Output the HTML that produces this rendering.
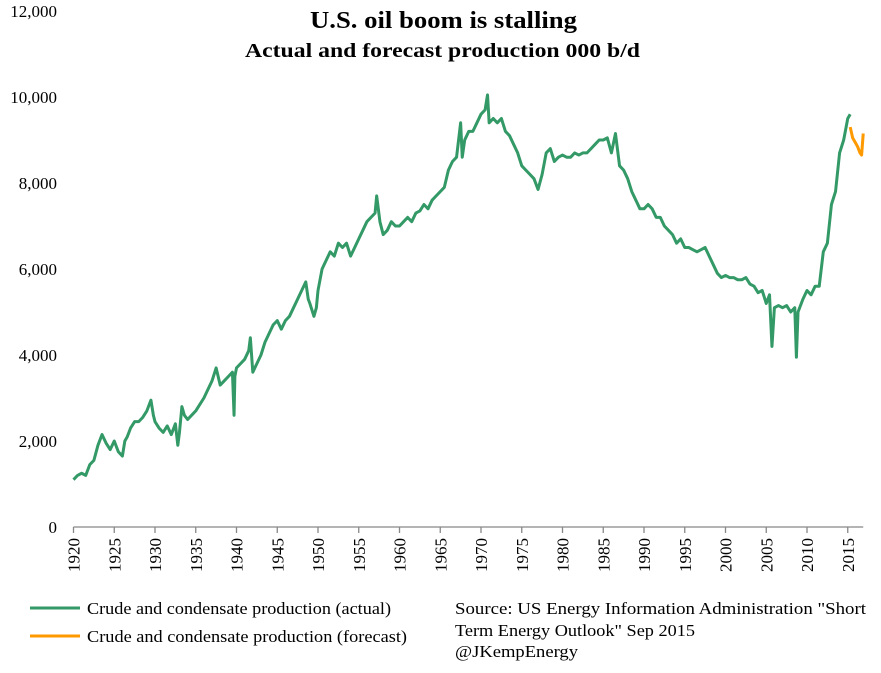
<!DOCTYPE html>
<html><head><meta charset="utf-8"><style>
body{margin:0;background:#fff;}
svg text{font-family:"Liberation Serif",serif;}
</style></head><body>
<svg id="chart" width="881" height="668" xmlns="http://www.w3.org/2000/svg">
<text x="310" y="28" font-size="24" font-weight="bold" textLength="267" lengthAdjust="spacingAndGlyphs">U.S. oil boom is stalling</text>
<text x="245" y="57" font-size="20" font-weight="bold" textLength="395" lengthAdjust="spacingAndGlyphs">Actual and forecast production 000 b/d</text>
<g id="yaxis"></g>
<g id="xaxis"></g>
<g id="series"></g>
<g>
<line x1="30" y1="608" x2="80" y2="608" stroke="#339966" stroke-width="3"/>
<text x="87" y="614" font-size="17" textLength="304" lengthAdjust="spacingAndGlyphs">Crude and condensate production (actual)</text>
<line x1="30" y1="636" x2="80" y2="636" stroke="#ff9900" stroke-width="3"/>
<text x="87" y="642" font-size="17" textLength="320" lengthAdjust="spacingAndGlyphs">Crude and condensate production (forecast)</text>
</g>
<g font-size="17">
<text x="455" y="614" textLength="411" lengthAdjust="spacingAndGlyphs">Source: US Energy Information Administration "Short</text>
<text x="455" y="636" textLength="240" lengthAdjust="spacingAndGlyphs">Term Energy Outlook" Sep 2015</text>
<text x="455" y="657" textLength="123" lengthAdjust="spacingAndGlyphs">@JKempEnergy</text>
</g>
</svg>
<script>
const yTicks=[0,2000,4000,6000,8000,10000,12000];
const yTickLabels=["0","2,000","4,000","6,000","8,000","10,000","12,000"];
const xTicks=[1920,1925,1930,1935,1940,1945,1950,1955,1960,1965,1970,1975,1980,1985,1990,1995,2000,2005,2010,2015];
const actualYears=[1920,1920.5,1921,1921.5,1922,1922.5,1923,1923.5,1924,1924.5,1925,1925.5,1926,1926.3,1926.6,1927,1927.5,1928,1928.5,1929,1929.5,1929.8,1930,1930.5,1931,1931.5,1932,1932.5,1932.8,1933,1933.3,1933.6,1934,1934.5,1935,1935.5,1936,1936.5,1937,1937.5,1938,1938.5,1939,1939.5,1939.7,1939.8,1940,1940.5,1941,1941.5,1941.7,1942,1942.5,1943,1943.5,1944,1944.5,1945,1945.5,1946,1946.5,1947,1947.5,1948,1948.5,1948.8,1949,1949.5,1949.8,1950,1950.5,1951,1951.5,1952,1952.5,1953,1953.5,1954,1954.5,1955,1955.5,1956,1956.5,1957,1957.2,1957.6,1958,1958.5,1959,1959.5,1960,1960.5,1961,1961.5,1962,1962.5,1963,1963.5,1964,1964.5,1965,1965.5,1966,1966.5,1967,1967.5,1967.7,1968,1968.5,1969,1969.5,1970,1970.5,1970.8,1971,1971.5,1972,1972.5,1973,1973.5,1974,1974.5,1975,1975.5,1976,1976.5,1977,1977.5,1978,1978.5,1979,1979.5,1980,1980.5,1981,1981.5,1982,1982.5,1983,1983.5,1984,1984.5,1985,1985.5,1986,1986.5,1987,1987.5,1988,1988.5,1989,1989.5,1990,1990.5,1991,1991.5,1992,1992.5,1993,1993.5,1994,1994.5,1995,1995.5,1996,1996.5,1997,1997.5,1998,1998.5,1999,1999.5,2000,2000.5,2001,2001.5,2002,2002.5,2003,2003.5,2004,2004.5,2005,2005.4,2005.7,2006,2006.5,2007,2007.5,2008,2008.5,2008.7,2008.9,2009.5,2010,2010.5,2011,2011.5,2012,2012.5,2013,2013.5,2014,2014.5,2015,2015.3];
const actualValues=[1100,1200,1250,1200,1450,1550,1900,2150,1950,1800,2000,1750,1650,2000,2100,2300,2450,2450,2550,2700,2950,2600,2450,2300,2200,2350,2150,2400,1900,2200,2800,2600,2500,2600,2700,2850,3000,3200,3400,3700,3300,3400,3500,3600,2600,3500,3700,3800,3900,4100,4400,3600,3800,4000,4300,4500,4700,4800,4600,4800,4900,5100,5300,5500,5700,5300,5200,4900,5100,5500,6000,6200,6400,6300,6600,6500,6600,6300,6500,6700,6900,7100,7200,7300,7700,7100,6800,6900,7100,7000,7000,7100,7200,7100,7300,7350,7500,7400,7600,7700,7800,7900,8300,8500,8600,9400,8600,9000,9200,9200,9400,9600,9700,10050,9400,9500,9400,9500,9200,9100,8900,8700,8400,8300,8200,8100,7850,8200,8700,8800,8500,8600,8650,8600,8600,8700,8650,8700,8700,8800,8900,9000,9000,9050,8700,9150,8400,8300,8100,7800,7600,7400,7400,7500,7400,7200,7200,7000,6900,6800,6600,6700,6500,6500,6450,6400,6450,6500,6300,6100,5900,5800,5850,5800,5800,5750,5750,5800,5650,5600,5450,5500,5200,5400,4200,5100,5150,5100,5150,5000,5100,3950,5000,5300,5500,5400,5600,5600,6400,6600,7500,7800,8700,9000,9500,9600];
const forecastYears=[2015.3,2015.6,2015.9,2016.2,2016.5,2016.7,2016.9];
const forecastValues=[9300,9050,8950,8850,8700,8650,9150];

const svg=document.getElementById('chart');
const NS='http://www.w3.org/2000/svg';
const x=v=>73.5+(v-1920)*(40.75/5);
const y=v=>527-v*(516/12000);
function mk(tag,attrs,parent){const e=document.createElementNS(NS,tag);for(const k in attrs)e.setAttribute(k,attrs[k]);parent.appendChild(e);return e;}
const ya=document.getElementById('yaxis');
yTicks.forEach((t,i)=>{
  const tx=mk('text',{x:57,y:y(t)+6,'text-anchor':'end','font-size':17},ya);
  
  
  tx.textContent=yTickLabels[i];
});
const xa=document.getElementById('xaxis');
const axl=mk('line',{x1:x(1920),y1:527,x2:x(2016.9),y2:527,stroke:'#888','stroke-width':1.3},xa);


xTicks.forEach(t=>{
  const tk=mk('line',{x1:x(t),y1:527,x2:x(t),y2:533,stroke:'#888','stroke-width':1.3},xa);
  
  
  const tx=mk('text',{x:0,y:0,'text-anchor':'end','font-size':17,transform:`translate(${x(t)+6},538) rotate(-90)`},xa);
  
  
  tx.textContent=t;
});
const s=document.getElementById('series');
const pa=mk('polyline',{points:actualYears.map((v,i)=>x(v)+','+y(actualValues[i])).join(' '),fill:'none',stroke:'#339966','stroke-width':3,'stroke-linejoin':'round'},s);


const pf=mk('polyline',{points:forecastYears.map((v,i)=>x(v)+','+y(forecastValues[i])).join(' '),fill:'none',stroke:'#ff9900','stroke-width':3,'stroke-linejoin':'round'},s);


</script>
</body></html>
